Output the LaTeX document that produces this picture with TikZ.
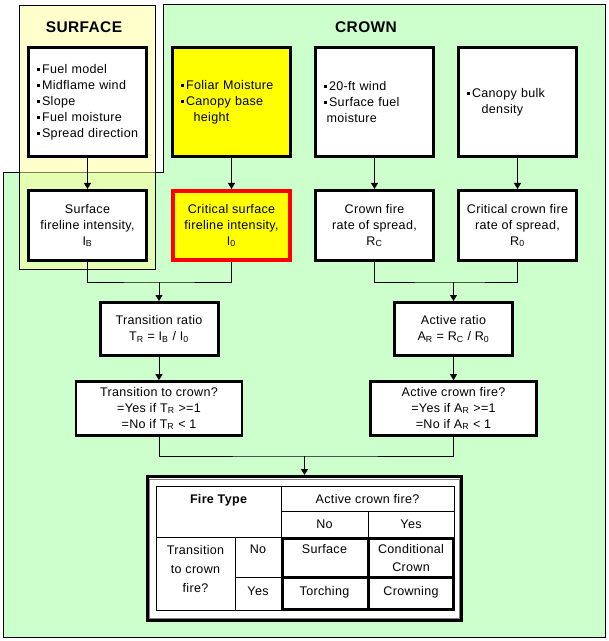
\documentclass[tikz,border=0pt]{standalone}
\usepackage{fontspec}
\setmainfont[LetterSpace=2.5]{Liberation Sans}
\usetikzlibrary{arrows.meta}

\definecolor{panelgreen}{HTML}{CCFFCC}
\definecolor{panelyellow}{HTML}{FFFF99}
\definecolor{boxyellow}{HTML}{FFFF00}
\definecolor{alertred}{HTML}{FF0000}
\definecolor{framegray}{HTML}{808080}

% small square list marker
\newcommand{\sqbul}{\rule[1.7pt]{2.4pt}{2.4pt}\hspace{1.4pt}}

\begin{document}
\begin{tikzpicture}[x=0.75pt,y=-0.75pt,
  every node/.style={font=\fontsize{9.4}{12}\selectfont, inner sep=0pt},
  thin line/.style={draw=black, line width=0.75pt},
  thick line/.style={draw=black, line width=2.25pt},
  conn/.style={draw=black, line width=0.75pt},
  arrow/.style={conn, -{Triangle[width=5.25pt,length=4.5pt]}},
  inbox/.style={draw=black, line width=2.25pt, fill=white,
    minimum width={118*0.75pt}, minimum height={109*0.75pt},
    text width={101*0.75pt}, align=left},
  resbox/.style={draw=black, line width=2.25pt, fill=white,
    minimum width={118*0.75pt}, minimum height={70*0.75pt}, align=center},
  ratiobox/.style={draw=black, line width=2.25pt, fill=white,
    minimum width={118*0.75pt}, minimum height={53*0.75pt}, align=center},
  testbox/.style={draw=black, line width=2pt, fill=white,
    minimum width={166*0.75pt}, minimum height={54*0.75pt}, align=center},
  header/.style={font=\fontsize{11.6}{14}\selectfont\bfseries},
  cell/.style={anchor=base},
]
\useasboundingbox (0,0) rectangle (608,641);
\fill[white] (0,0) rectangle (608,641);

% crown panel (L-shaped) and surface panel on top of it
\path[thin line, fill=panelgreen]
  (163,5) -- (605,5) -- (605,637) -- (3,637) -- (3,173) -- (163,173) -- cycle;
\path[thin line, fill=panelyellow, fill opacity=0.5] (19,5.5) rectangle (155.5,269);

\node[header] (hsurf) at (84,27) {SURFACE};
\node[header] (hcrown) at (366,27) {CROWN};

% input boxes
\node[inbox] (sin) at (87.5,102)
  {\sqbul Fuel~model\\\sqbul Midflame~wind\\\sqbul Slope\\\sqbul Fuel~moisture\\\sqbul Spread~direction};
\node[inbox, fill=boxyellow] (fol) at (231.5,102)
  {\sqbul Foliar~Moisture\\\sqbul Canopy~base\\\hspace*{9.5pt}height};
\node[inbox] (wnd) at (374.5,102)
  {\sqbul 20-ft~wind\\\sqbul Surface~fuel\\\hspace*{2pt}moisture};
\node[inbox] (cbd) at (517.5,102)
  {\sqbul Canopy~bulk\\\hspace*{11pt}density};

% derived quantities
\node[resbox] (sfi) at (87.5,225.5)
  {Surface\\fireline intensity,\\I\textsubscript{B}};
\node[resbox, fill=boxyellow, draw=alertred, line width=3pt,
      minimum width={117*0.75pt}, minimum height={69*0.75pt}] (csi) at (231.5,225.5)
  {Critical surface\\fireline intensity,\\I\textsubscript{0}};
\node[resbox] (ros) at (374.5,225.5)
  {Crown fire\\rate of spread,\\R\textsubscript{C}};
\node[resbox] (cros) at (517.5,225.5)
  {Critical crown fire\\rate of spread,\\R\textsubscript{0}};

% ratios and tests
\node[ratiobox] (tr) at (159,329)
  {Transition ratio\\T\textsubscript{R} = I\textsubscript{B} / I\textsubscript{0}};
\node[ratiobox] (ar) at (453.5,329)
  {Active ratio\\A\textsubscript{R} = R\textsubscript{C} / R\textsubscript{0}};
\node[testbox] (ttc) at (159,408.5)
  {Transition to crown?\\=Yes if T\textsubscript{R} >=1\\=No if T\textsubscript{R} < 1};
\node[testbox] (acf) at (453.5,408.5)
  {Active crown fire?\\=Yes if A\textsubscript{R} >=1\\=No if A\textsubscript{R} < 1};

% fire type table frame
\node[draw=black, line width=2.25pt, fill=white,
      minimum width={314*0.75pt}, minimum height={144*0.75pt}] (ft) at (304.5,548.5) {};
\draw[framegray, line width=0.75pt] (149.5,479.5) rectangle (459.5,618.5);

% connectors
\coordinate (jl) at (159,282);
\coordinate (jr) at (453.5,282);
\coordinate (jb) at (304.5,456);
\draw[arrow] (sin) -- (sfi);
\draw[arrow] (fol) -- (csi);
\draw[arrow] (wnd) -- (ros);
\draw[arrow] (cbd) -- (cros);
\draw[conn] (sfi.south) |- (jl) -| (csi.south);
\draw[conn] (ros.south) |- (jr) -| (cros.south);
\draw[arrow] (jl) -- (tr.north);
\draw[arrow] (jr) -- (ar.north);
\draw[arrow] (tr) -- (ttc);
\draw[arrow] (ar) -- (acf);
\draw[conn] (ttc.south) |- (jb) -| (acf.south);
\draw[arrow] (jb) -- (ft.north);

% table grid
\draw[thin line] (156,486) rectangle (454,610);
\draw[thin line] (281,486) -- (281,537);
\draw[thin line] (281,511) -- (454,511);
\draw[thin line] (368,511) -- (368,537);
\draw[thin line] (156,537) -- (281,537);
\draw[thin line] (235,537) -- (235,610);
\draw[thin line] (235,577) -- (281,577);
\draw[thick line] (282,538) rectangle (453,609);
\draw[thick line] (368,538) -- (368,609);
\draw[thick line] (282,577) -- (453,577);

% table text
\node[cell, font=\fontsize{9.4}{12}\selectfont\bfseries] (tfire) at (218.5,503.5) {Fire Type};
\node[cell] (tact) at (367.5,503) {Active crown fire?};
\node[cell] (tano) at (324.5,528.5) {No};
\node[cell] (tayes) at (411,528.5) {Yes};
\node[align=center, font=\fontsize{9.4}{14.6}\selectfont] (ttrans) at (195.5,569)
  {Transition\\to crown\\fire?};
\node[cell] (ttno) at (258,553.5) {No};
\node[cell] (ttyes) at (258,595.5) {Yes};
\node[cell] (rsurf) at (324.5,553.5) {Surface};
\node[align=center, font=\fontsize{9.4}{13.5}\selectfont] (rcond) at (411,558.5)
  {Conditional\\Crown};
\node[cell] (rtorch) at (324.5,595.5) {Torching};
\node[cell] (rcrown) at (411,595.5) {Crowning};
\end{tikzpicture}
\end{document}
